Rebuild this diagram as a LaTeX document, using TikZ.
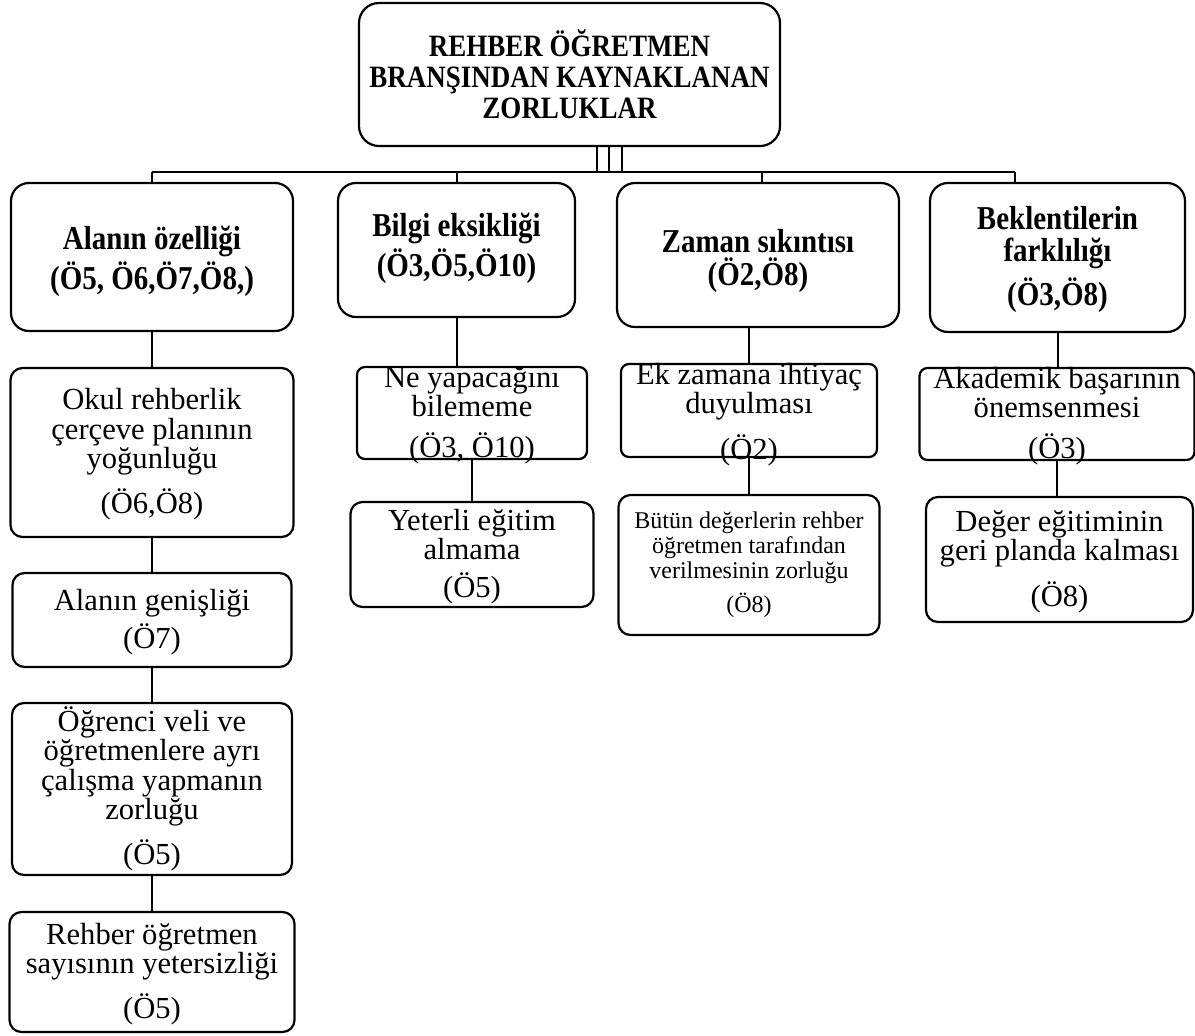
\documentclass[tikz,border=0pt]{standalone}
\usepackage{fontspec}
\setmainfont{Liberation Serif}
\tikzset{
  kutu/.style={draw, line width=1.1pt, rounded corners=6pt, inner sep=0pt},
  sz/.style n args={2}{minimum width=#1*0.5pt, minimum height=#2*0.5pt},
  baslik/.style={align=center, inner sep=0pt, yscale=1.15, transform shape,
    font=\fontsize{13.5}{13.5}\selectfont\bfseries},
  ana/.style={align=center, inner sep=0pt, yscale=1.15, transform shape,
    font=\fontsize{14.5}{13.6}\selectfont\bfseries},
  alt/.style={align=center, inner sep=0pt, font=\fontsize{15.3}{14.6}\selectfont},
  ince/.style={align=center, inner sep=0pt, font=\fontsize{12}{12.3}\selectfont},
  hat/.style={line width=1pt}
}

\begin{document}
\begin{tikzpicture}[x=0.5pt, y=-0.5pt]
    \useasboundingbox (0,0) rectangle (1195,1035);

    % ---------- top ----------
    \node[kutu, rounded corners=10pt, sz={421}{143}] (top) at (569.5,74.5) {};
    \node[baslik] (topT) at (top) {REHBER ÖĞRETMEN\\BRANŞINDAN KAYNAKLANAN\\ZORLUKLAR};

    % ---------- first level ----------
    \node[kutu, rounded corners=9pt, sz={282}{148}] (alan) at (152,257) {};
    \node[kutu, rounded corners=9pt, sz={237}{134}] (bilgi) at (456.5,250) {};
    \node[kutu, rounded corners=9pt, sz={282}{144}] (zaman) at (758,255) {};
    \node[kutu, rounded corners=9pt, sz={255}{149}] (bek) at (1057.5,257.5) {};
    \node[ana] (alanT) at ([yshift=-2pt]alan) {Alanın özelliği\\[1pt](Ö5, Ö6,Ö7,Ö8,)};
    \node[ana] (bilgiT) at ([yshift=1pt]bilgi) {Bilgi eksikliği\\[1pt](Ö3,Ö5,Ö10)};
    \node[ana] (zamanT) at ([yshift=-3pt]zaman) {Zaman sıkıntısı\\[1pt](Ö2,Ö8)};
    \node[ana] (bekT) at ([yshift=-1pt]bek) {Beklentilerin\\farklılığı\\[3pt](Ö3,Ö8)};

    % ---------- left column ----------
    \node[kutu, sz={283}{169}] (okul) at (152,452.5) {};
    \node[kutu, sz={279}{94}] (gen) at (152,620) {};
    \node[kutu, sz={280}{172}] (ogr) at (152,789) {};
    \node[kutu, sz={285}{120}] (rehb) at (152,972) {};
    \node[alt] (okulT) at ([yshift=-1pt]okul) {Okul rehberlik\\çerçeve planının\\yoğunluğu\\[6pt](Ö6,Ö8)};
    \node[alt] (genT) at ([yshift=-1pt]gen) {Alanın genişliği\\[2pt](Ö7)};
    \node[alt] (ogrT) at (ogr) {Öğrenci veli ve\\öğretmenlere ayrı\\çalışma yapmanın\\zorluğu\\[6pt](Ö5)};
    \node[alt] (rehbT) at ([yshift=-1pt]rehb) {Rehber öğretmen\\sayısının yetersizliği\\[6pt](Ö5)};

    % ---------- other columns ----------
    \node[kutu, rounded corners=4pt, sz={230}{92}] (ne) at (472,413) {};
    \node[kutu, sz={243}{105}] (yet) at (472,554.5) {};
    \node[kutu, rounded corners=4pt, sz={256}{93}] (ek) at (749,410.5) {};
    \node[kutu, sz={261}{140}] (butun) at (749,565) {};
    \node[kutu, rounded corners=4pt, sz={275}{92}] (akad) at (1057,414) {};
    \node[kutu, sz={267}{125}] (deger) at (1059.5,559.5) {};
    \node[alt] (neT) at ([yshift=-1pt]ne) {Ne yapacağını\\bilememe\\[6pt](Ö3, Ö10)};
    \node[alt] (yetT) at ([yshift=-1pt]yet) {Yeterli eğitim\\almama\\[4pt](Ö5)};
    \node[alt] (ekT) at ([yshift=-2pt]ek) {Ek zamana ihtiyaç\\duyulması\\[6pt](Ö2)};
    \node[ince] (butunT) at (butun) {Bütün değerlerin rehber\\öğretmen tarafından\\verilmesinin zorluğu\\[4pt](Ö8)};
    \node[alt] (akadT) at ([yshift=-1pt]akad) {Akademik başarının\\önemsenmesi\\[6pt](Ö3)};
    \node[alt] (degerT) at ([yshift=-1pt]deger) {Değer eğitiminin\\geri planda kalması\\[6pt](Ö8)};

    % ---------- connectors ----------
    \coordinate (barL) at (152,172);
    \coordinate (barR) at (1015,172);
    \foreach \dx in {27.5,39.5,52.5}
        \draw[hat] ([xshift=\dx*0.5pt]top.south) -- ([xshift=\dx*0.5pt]top.south |- barL);
    \draw[hat] (barL) -- (barR);
    \draw[hat] (barL) -- (alan.north);
    \draw[hat] (bilgi.north |- barL) -- (bilgi.north);
    \draw[hat] ([xshift=2pt]zaman.north |- barL) -- ([xshift=2pt]zaman.north);
    \draw[hat] (barR) -- (barR |- bek.north);

    \draw[hat] (alan.south) -- (okul.north);
    \draw[hat] (okul.south) -- (gen.north);
    \draw[hat] (gen.south) -- (ogr.north);
    \draw[hat] (ogr.south) -- (rehb.north);
    \draw[hat] (bilgi.south) -- (bilgi.south |- ne.north);
    \draw[hat] (ne.south) -- (yet.north);
    \draw[hat] (ek.north |- zaman.south) -- (ek.north);
    \draw[hat] (ek.south) -- (butun.north);
    \draw[hat] (bek.south) -- (bek.south |- akad.north);
    \draw[hat] (akad.south) -- (akad.south |- deger.north);
\end{tikzpicture}
\end{document}
